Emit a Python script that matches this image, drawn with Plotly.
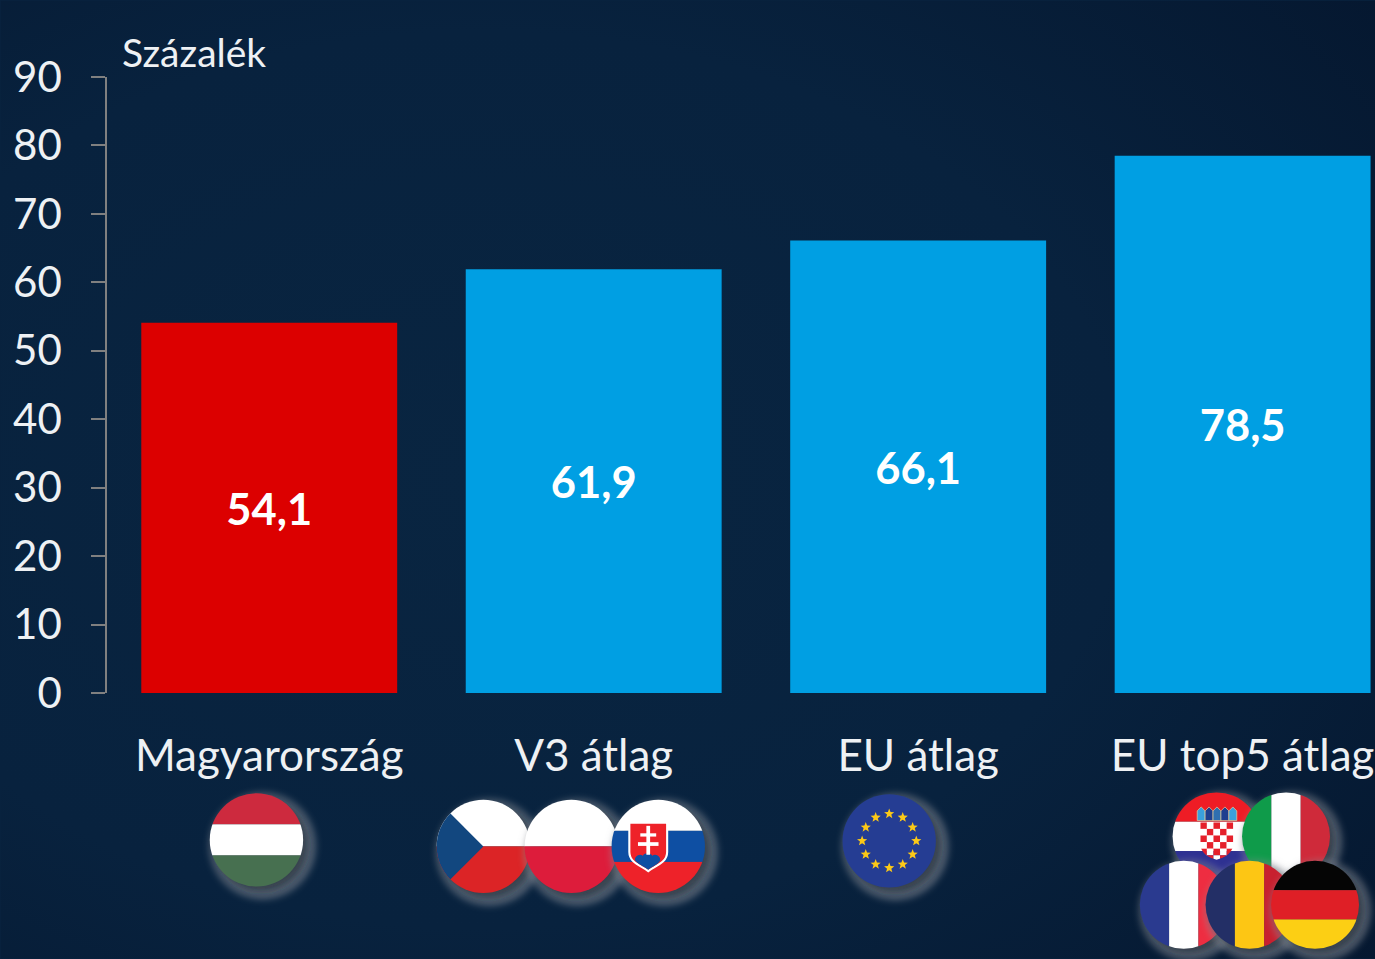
import base64, math
import plotly.graph_objects as go

categories = ["Magyarország", "V3 átlag", "EU átlag", "EU top5 átlag"]
values = [54.1, 61.9, 66.1, 78.5]
bar_colors = ["#dc0000", "#009fe3", "#009fe3", "#009fe3"]
y_ticks = list(range(0, 100, 10))
unit_label = "Százalék"

W, H = 1375, 959
L, R, T, B = 106.5, 0, 76.5, 266
FONT = "Lato"
TXT = "#eef1f4"


def px(x):
    return (x - L) / (W - L - R)


def py(y):
    return 1 - (y - T) / (H - T - B)


def data_uri(svg):
    return "data:image/svg+xml;base64," + base64.b64encode(svg.encode("utf-8")).decode()


def stripes_h(c1, c2, c3):
    return (f'<rect x="-1.2" y="-1.2" width="2.4" height="0.867" fill="{c1}"/>'
            f'<rect x="-1.2" y="-0.333" width="2.4" height="0.667" fill="{c2}"/>'
            f'<rect x="-1.2" y="0.333" width="2.4" height="0.867" fill="{c3}"/>')


def stripes_v(c1, c2, c3):
    return (f'<rect x="-1.2" y="-1.2" width="0.867" height="2.4" fill="{c1}"/>'
            f'<rect x="-0.333" y="-1.2" width="0.667" height="2.4" fill="{c2}"/>'
            f'<rect x="0.333" y="-1.2" width="0.867" height="2.4" fill="{c3}"/>')


def star(cx, cy, r):
    pts = []
    for i in range(10):
        a = -math.pi / 2 + i * math.pi / 5
        rr = r if i % 2 == 0 else r * 0.42
        pts.append(f"{cx + rr * math.cos(a):.4f},{cy + rr * math.sin(a):.4f}")
    return f'<polygon points="{" ".join(pts)}" fill="#fcc917"/>'


def eu_flag():
    s = '<rect x="-1.2" y="-1.2" width="2.4" height="2.4" fill="#253d93"/>'
    for i in range(12):
        a = i * math.pi / 6
        s += star(0.58 * math.cos(a), 0.58 * math.sin(a), 0.115)
    return s


def cz_flag():
    return ('<rect x="-1.2" y="-1.2" width="2.4" height="1.2" fill="#ffffff"/>'
            '<rect x="-1.2" y="0" width="2.4" height="1.2" fill="#dc2426"/>'
            '<polygon points="-1.2,-1.2 0,0 -1.2,1.2" fill="#12477f"/>')


def pl_flag():
    return ('<rect x="-1.2" y="-1.2" width="2.4" height="1.2" fill="#ffffff"/>'
            '<rect x="-1.2" y="0" width="2.4" height="1.2" fill="#dd1c3b"/>')


def sk_flag():
    shield = ('M-0.62,-0.51 H0.19 V0.12 C0.19,0.36 -0.08,0.42 -0.215,0.53 '
              'C-0.35,0.42 -0.62,0.36 -0.62,0.12 Z')
    return (stripes_h("#ffffff", "#0e4fa3", "#ee2229") +
            f'<path d="{shield}" fill="#ee2229" stroke="#ffffff" stroke-width="0.045"/>'
            '<path d="M-0.5,0.3 a0.11,0.11 0 0 1 0.17,-0.1 a0.12,0.12 0 0 1 0.2,0 '
            'a0.11,0.11 0 0 1 0.17,0.1 C0.02,0.38 -0.12,0.43 -0.215,0.5 '
            'C-0.31,0.43 -0.45,0.38 -0.5,0.3 Z" fill="#0e4fa3"/>'
            '<rect x="-0.255" y="-0.44" width="0.08" height="0.62" fill="#ffffff"/>'
            '<rect x="-0.385" y="-0.28" width="0.34" height="0.07" fill="#ffffff"/>'
            '<rect x="-0.435" y="-0.09" width="0.44" height="0.08" fill="#ffffff"/>')


def hr_flag():
    s = stripes_h("#ee1c25", "#ffffff", "#2e3192")
    size = 0.15
    s += ('<clipPath id="shield"><path d="M-0.37,-0.32 H0.38 V0.16 '
          'C0.38,0.38 0.18,0.48 0,0.53 C-0.18,0.48 -0.37,0.38 -0.37,0.16 Z"/></clipPath>'
          '<g clip-path="url(#shield)">')
    for row in range(6):
        for col in range(5):
            fill = "#e5202b" if (row + col) % 2 == 0 else "#ffffff"
            s += (f'<rect x="{-0.37 + col * size:.3f}" y="{-0.32 + row * size:.3f}" '
                  f'width="{size}" height="{size}" fill="{fill}"/>')
    s += '</g>'
    for i, c in enumerate(["#3aa0dc", "#1f3f8f", "#2f6fb0", "#1f3f8f", "#3aa0dc"]):
        s += (f'<path d="M{-0.44 + i * 0.18:.3f},-0.36 v-0.22 l0.09,-0.09 l0.09,0.09 v0.22 Z" '
              f'fill="{c}" stroke="#e8d9a0" stroke-width="0.015"/>')
    return s


def flag(cx, cy, r, inner):
    pad = 1.5
    svg = (f'<svg xmlns="http://www.w3.org/2000/svg" width="{2 * pad * r}" height="{2 * pad * r}" '
           f'viewBox="{-pad} {-pad} {2 * pad} {2 * pad}">'
           '<defs><clipPath id="c"><circle cx="0" cy="0" r="1"/></clipPath>'
           '<filter id="b" x="-40%" y="-40%" width="180%" height="180%">'
           '<feGaussianBlur stdDeviation="0.085"/></filter></defs>'
           '<circle cx="0.13" cy="0.13" r="1.14" fill="#9a9ea6" fill-opacity="0.5" filter="url(#b)"/>'
           '<circle cx="0.1" cy="0.1" r="1.0" fill="#1c2430" fill-opacity="0.55" filter="url(#b)"/>'
           f'<g clip-path="url(#c)">{inner}</g></svg>')
    return dict(source=data_uri(svg), xref="paper", yref="paper",
                x=px(cx - pad * r), y=py(cy - pad * r),
                sizex=2 * pad * r / (W - L - R), sizey=2 * pad * r / (H - T - B),
                xanchor="left", yanchor="top", sizing="stretch", layer="above")


background_svg = (
    f'<svg xmlns="http://www.w3.org/2000/svg" width="{W}" height="{H}" viewBox="0 0 {W} {H}">'
    '<defs><radialGradient id="g" cx="0.35" cy="0.5" r="0.85">'
    '<stop offset="0" stop-color="#092541"/><stop offset="0.55" stop-color="#08223e"/>'
    '<stop offset="1" stop-color="#05172f"/></radialGradient></defs>'
    f'<rect width="{W}" height="{H}" fill="url(#g)"/></svg>')

images = [dict(source=data_uri(background_svg), xref="paper", yref="paper",
               x=px(0), y=py(0), sizex=W / (W - L - R), sizey=H / (H - T - B),
               xanchor="left", yanchor="top", sizing="stretch", layer="below")]
images += [
    flag(256, 840, 46.7, stripes_h("#cd2a3e", "#ffffff", "#477050")),
    flag(483, 846.5, 46.7, cz_flag()),
    flag(571, 846.5, 46.7, pl_flag()),
    flag(658, 846.5, 46.7, sk_flag()),
    flag(889, 841, 46.7, eu_flag()),
    flag(1216.5, 836.5, 44, hr_flag()),
    flag(1286, 836.5, 44, stripes_v("#0f9b4a", "#ffffff", "#cf2a3a")),
    flag(1183.7, 905, 44, stripes_v("#2a3a8f", "#ffffff", "#ee2d41")),
    flag(1249.5, 905, 44, stripes_v("#232f66", "#fdc614", "#c8202f")),
    flag(1315, 905, 44, stripes_h("#050505", "#df1f26", "#fccf14")),
]

fig = go.Figure(go.Bar(
    x=categories, y=values, marker=dict(color=bar_colors, line=dict(width=0)),
    texttemplate="%{y:.1f}", textposition="inside", insidetextanchor="middle", textangle=0,
    insidetextfont=dict(family=FONT, size=43.5, color="#ffffff", weight="bold"),
    hoverinfo="skip", showlegend=False,
))

fig.update_layout(
    width=W, height=H, autosize=False,
    margin=dict(l=L, r=R, t=T, b=B, pad=0),
    paper_bgcolor="#08223e", plot_bgcolor="rgba(0,0,0,0)",
    separators=", ", bargap=0.2113, images=images,
    font=dict(family=FONT, color=TXT),
    annotations=[dict(text=unit_label, xref="paper", yref="paper",
                      x=px(119.5), y=py(51), xanchor="left", yanchor="middle",
                      showarrow=False, font=dict(family=FONT, size=39, color=TXT))],
)
fig.update_xaxes(
    type="category", range=[-0.5, 3.408], showgrid=False, zeroline=False, showline=False,
    ticks="", ticklabelstandoff=33, tickfont=dict(family=FONT, size=44, color=TXT), automargin=False,
)
fig.update_yaxes(
    range=[0, 90], tickmode="array", tickvals=y_ticks, ticktext=[str(v) for v in y_ticks],
    showgrid=False, zeroline=False, showline=True, linecolor="#808080", linewidth=1.6,
    ticks="outside", ticklen=14, tickwidth=1.6, tickcolor="#808080", ticklabelstandoff=21,
    tickfont=dict(family=FONT, size=42, color=TXT), automargin=False,
)

fig.write_html("out.html", config={"displayModeBar": False},
               post_script="document.body.style.margin='0';document.body.style.overflow='hidden';")
